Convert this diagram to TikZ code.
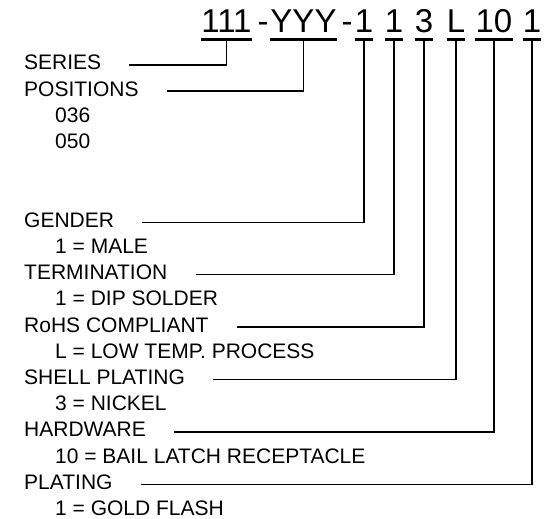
\documentclass[tikz,border=0pt]{standalone}
\usepackage{fontspec}
\setmainfont{Liberation Sans}
\usetikzlibrary{positioning}

\begin{document}
\begin{tikzpicture}[
		x=1pt, y=-1pt,
		code/.style={font=\fontsize{33}{36}\selectfont, inner sep=0pt, text depth=0pt, anchor=base},
		bar/.style={line width=3pt},
		field/.style={font=\fontsize{21}{24}\selectfont, inner sep=0pt, text height=15pt, text depth=0pt, anchor=west},
		link/.style={line width=1.4pt}
		]
		\useasboundingbox (0,0) rectangle (552,519);
		
		% --- 1. The part number ---
		\node[code] (series)   at (226.5,32.7) {111};
		\node[code] (dashA)    at (263,32.7)   {-};
		\node[code] (pos)      at (303.5,32.7) {YYY};
		\node[code] (dashB)    at (347,32.7)   {-};
		\node[code] (gender)   at (364,32.7)   {1};
		\node[code] (term)     at (394,32.7)   {1};
		\node[code] (rohs)     at (424,32.7)   {3};
		\node[code] (shell)    at (456,32.7)   {L};
		\node[code] (hardware) at (494,32.7)   {10};
		\node[code] (plating)  at (532,32.7)   {1};
		
		% underlines
		\draw[bar] ([yshift=-7pt]series.south west) -- ([yshift=-7pt]series.south east);
		\draw[bar] ([yshift=-7pt]pos.south west) -- ([yshift=-7pt]pos.south east);
		\draw[bar] ([yshift=-7pt]gender.south west) -- ([yshift=-7pt]gender.south east);
		\draw[bar] ([yshift=-7pt]term.south west) -- ([yshift=-7pt]term.south east);
		\draw[bar] ([yshift=-7pt]rohs.south west) -- ([yshift=-7pt]rohs.south east);
		\draw[bar] ([yshift=-7pt]shell.south west) -- ([yshift=-7pt]shell.south east);
		\draw[bar] ([yshift=-7pt]hardware.south west) -- ([yshift=-7pt]hardware.south east);
		\draw[bar] ([yshift=-7pt]plating.south west) -- ([yshift=-7pt]plating.south east);
		
		% --- 2. The field names and their options ---
		\node[field] (seriesL)   at (24,62.5)  {SERIES};
		\node[field] (posL)      at (24,88.7)  {POSITIONS};
		\node[field] (posA)      at (55,114.9) {036};
		\node[field] (posB)      at (55,141.1) {050};
		\node[field] (genderL)   at (24,219.7) {GENDER};
		\node[field] (genderA)   at (55,245.9) {1 = MALE};
		\node[field] (termL)     at (24,272.1) {TERMINATION};
		\node[field] (termA)     at (55,298.3) {1 = DIP SOLDER};
		\node[field] (rohsL)     at (24,324.5) {RoHS COMPLIANT};
		\node[field] (rohsA)     at (55,350.7) {L = LOW TEMP. PROCESS};
		\node[field] (shellL)    at (24,376.9) {SHELL PLATING};
		\node[field] (shellA)    at (55,403.1) {3 = NICKEL};
		\node[field] (hardwareL) at (24,429.3) {HARDWARE};
		\node[field] (hardwareA) at (55,455.5) {10 = BAIL LATCH RECEPTACLE};
		\node[field] (platingL)  at (24,481.7) {PLATING};
		\node[field] (platingA)  at (55,507.9) {1 = GOLD FLASH};
		
		% --- 3. Leaders from the names up to the code ---
		\draw[link] ([xshift=28pt, yshift=-2.5pt]seriesL.east) -| ([yshift=-7pt]series.south);
		\draw[link] ([xshift=28pt, yshift=-2.5pt]posL.east) -| ([yshift=-7pt]pos.south);
		\draw[link] ([xshift=28pt, yshift=-2.5pt]genderL.east) -| ([yshift=-7pt]gender.south);
		\draw[link] ([xshift=28pt, yshift=-2.5pt]termL.east) -| ([yshift=-7pt]term.south);
		\draw[link] ([xshift=28pt, yshift=-2.5pt]rohsL.east) -| ([yshift=-7pt]rohs.south);
		\draw[link] ([xshift=28pt, yshift=-2.5pt]shellL.east) -| ([yshift=-7pt]shell.south);
		\draw[link] ([xshift=28pt, yshift=-2.5pt]hardwareL.east) -| ([yshift=-7pt]hardware.south);
		\draw[link] ([xshift=28pt, yshift=-2.5pt]platingL.east) -| ([yshift=-7pt]plating.south);
		
	\end{tikzpicture}
\end{document}
